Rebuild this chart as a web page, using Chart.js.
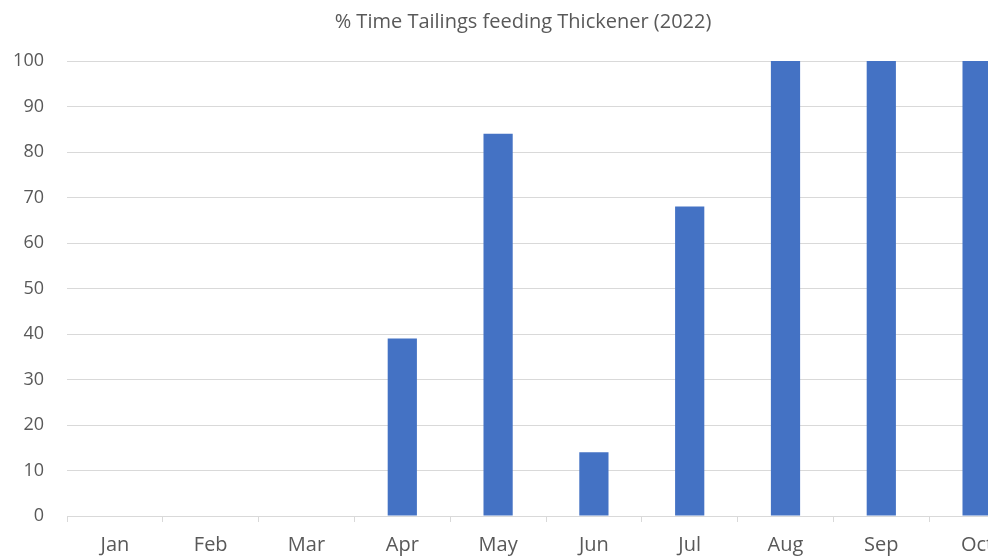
<!DOCTYPE html>
<html>
<head>
<meta charset="utf-8">
<script src="https://cdn.jsdelivr.net/npm/chart.js@4/dist/chart.umd.min.js"></script>
<style>
  html, body { margin: 0; padding: 0; background: #fff; overflow: hidden; }
  #wrap { width: 1046px; height: 559px; }
</style>
</head>
<body>
<div id="wrap"><canvas id="c" width="1046" height="559"></canvas></div>
<script>
// Monthly share of time the tailings stream fed the thickener
const months = ['Jan', 'Feb', 'Mar', 'Apr', 'May', 'Jun', 'Jul', 'Aug', 'Sep', 'Oct'];
const pctTime = [0, 0, 0, 39, 84, 14, 68, 100, 100, 100];
const yTicks = [0, 10, 20, 30, 40, 50, 60, 70, 80, 90, 100];

const textColor = '#595959';
const gridColor = '#d9d9d9';
const fontFamily = '"Open Sans", Lato, sans-serif';

new Chart(document.getElementById('c'), {
  type: 'bar',
  data: {
    labels: months,
    datasets: [{
      data: pctTime,
      backgroundColor: '#4472C4',
      borderWidth: 0,
      categoryPercentage: 1,
      barPercentage: 0.305
    }]
  },
  options: {
    responsive: false,
    animation: false,
    layout: { padding: 0, autoPadding: false },
    plugins: {
      legend: { display: false },
      tooltip: { enabled: false },
      title: {
        display: true,
        text: '% Time Tailings feeding Thickener (2022)',
        color: textColor,
        font: { family: fontFamily, size: 20, weight: 'normal' },
        padding: { top: 10, bottom: 27 }
      }
    },
    scales: {
      x: {
        grid: { drawOnChartArea: false, drawTicks: true, tickLength: 6, color: gridColor, offset: true },
        border: { color: gridColor, width: 1 },
        ticks: { color: textColor, font: { family: fontFamily, size: 20 }, padding: 11, maxRotation: 0 },
        afterFit: s => { s.height = 43; }
      },
      y: {
        min: 0,
        max: 100,
        afterBuildTicks: s => { s.ticks = yTicks.map(v => ({ value: v })); },
        grid: { color: gridColor, drawTicks: false },
        border: { display: false },
        ticks: { color: textColor, font: { family: fontFamily, size: 18 }, padding: 23 },
        afterFit: s => { s.width = 67; }
      },
      // empty right-hand margin beside the plot
      yRight: {
        position: 'right',
        min: 0,
        max: 100,
        grid: { drawOnChartArea: false, drawTicks: false },
        border: { display: false },
        ticks: { display: false },
        afterFit: s => { s.width = 21; }
      }
    }
  }
});
</script>
</body>
</html>
